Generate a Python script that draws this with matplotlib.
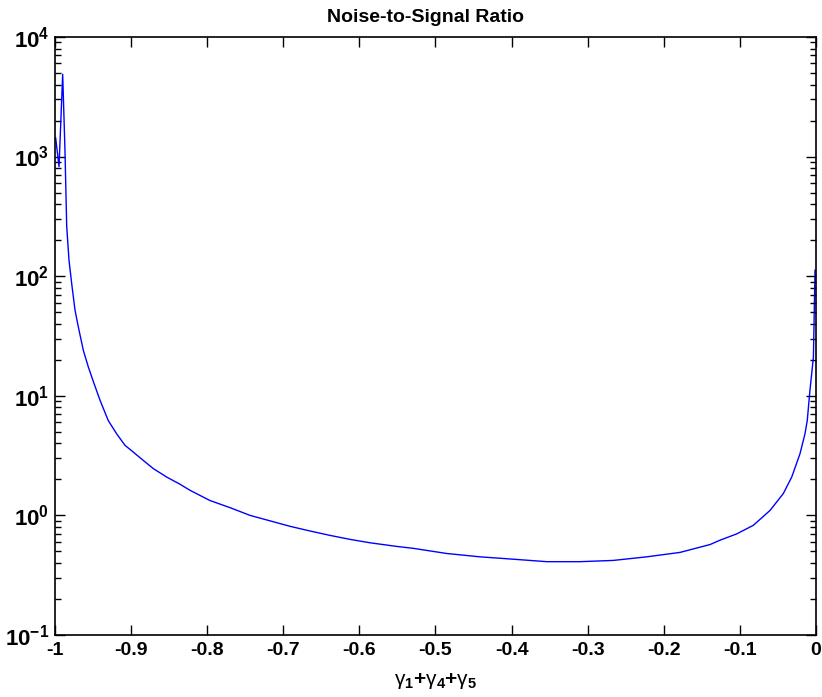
import numpy as np
import matplotlib
matplotlib.use('Agg')
import matplotlib.pyplot as plt
from matplotlib.ticker import LogLocator, NullFormatter, FixedLocator

plt.rcParams['font.family'] = ['Liberation Sans', 'DejaVu Sans']
plt.rcParams['mathtext.fontset'] = 'custom'
plt.rcParams['mathtext.rm'] = 'Liberation Sans'
plt.rcParams['mathtext.bf'] = 'Liberation Sans:bold'
plt.rcParams['mathtext.it'] = 'Liberation Sans:italic'

# gamma1 + gamma4 + gamma5 and noise-to-signal ratio
gamma_sum = [-0.9991, -0.9947, -0.9899, -0.9869, -0.9846, -0.9816, -0.9781,
             -0.9737, -0.9694, -0.9628, -0.9562, -0.9497, -0.9409, -0.9300,
             -0.9189, -0.9080, -0.8971, -0.8840, -0.8708, -0.8532, -0.8357,
             -0.8226, -0.7963, -0.7700, -0.7438, -0.7175, -0.6912, -0.6649,
             -0.6386, -0.6124, -0.5861, -0.5510, -0.5292, -0.4853, -0.4415,
             -0.3978, -0.3539, -0.3101, -0.2664, -0.2225, -0.1787, -0.1393,
             -0.1261, -0.1042, -0.0824, -0.0604, -0.0430, -0.0319, -0.0210,
             -0.0145, -0.0115, -0.0079, -0.0034, -0.0013]
nsr = [1430, 823, 4870, 1136, 260, 136, 87,
       52, 37.8, 24, 17.4, 13.2, 9.2, 6.2,
       4.8, 3.85, 3.38, 2.88, 2.46, 2.09, 1.82,
       1.62, 1.33, 1.16, 1.0, 0.90, 0.81, 0.74,
       0.68, 0.63, 0.59, 0.55, 0.53, 0.48, 0.45,
       0.43, 0.41, 0.41, 0.42, 0.45, 0.49, 0.57,
       0.62, 0.70, 0.825, 1.1, 1.52, 2.09, 3.28,
       4.8, 6.2, 11.2, 21, 112]

x_ticks = [-1, -0.9, -0.8, -0.7, -0.6, -0.5, -0.4, -0.3, -0.2, -0.1, 0]
x_labels = ['-1', '-0.9', '-0.8', '-0.7', '-0.6', '-0.5', '-0.4', '-0.3', '-0.2', '-0.1', '0']
y_exps = [-1, 0, 1, 2, 3, 4]

fig = plt.figure(figsize=(8.22, 6.97), dpi=100)
ax = fig.add_axes([0.0669, 0.089, 0.9258, 0.858])

ax.plot(gamma_sum, nsr, color='#0000ff', linewidth=1.0)

ax.set_yscale('log')
ax.set_xlim(-1, 0)
ax.set_ylim(1e-1, 1e4)

ax.xaxis.set_major_locator(FixedLocator(x_ticks))
ax.set_xticklabels(x_labels, fontweight='bold', fontsize=14)
ax.yaxis.set_major_locator(FixedLocator([10.0 ** e for e in y_exps]))
ax.set_yticklabels([r'$\mathbf{10}^{\mathbf{%d}}$' % e for e in y_exps], fontsize=16)
ax.yaxis.set_minor_locator(LogLocator(base=10, subs=np.arange(2, 10)))
ax.yaxis.set_minor_formatter(NullFormatter())

ax.tick_params(which='both', direction='in', top=True, right=True)
ax.tick_params(which='major', length=7, width=1, pad=5)
ax.tick_params(which='minor', length=4, width=1)
ax.tick_params(axis='y', pad=4)
for s in ax.spines.values():
    s.set_linewidth(1.2)

ax.set_title('Noise-to-Signal Ratio', fontweight='bold', fontsize=14, pad=11, x=0.487)
ax.set_xlabel(r'$\mathrm{\gamma}_\mathbf{1}\mathbf{+}\mathrm{\gamma}_\mathbf{4}\mathbf{+}\mathrm{\gamma}_\mathbf{5}$',
              fontsize=15, labelpad=9)

fig.savefig('out.png', dpi=100)
